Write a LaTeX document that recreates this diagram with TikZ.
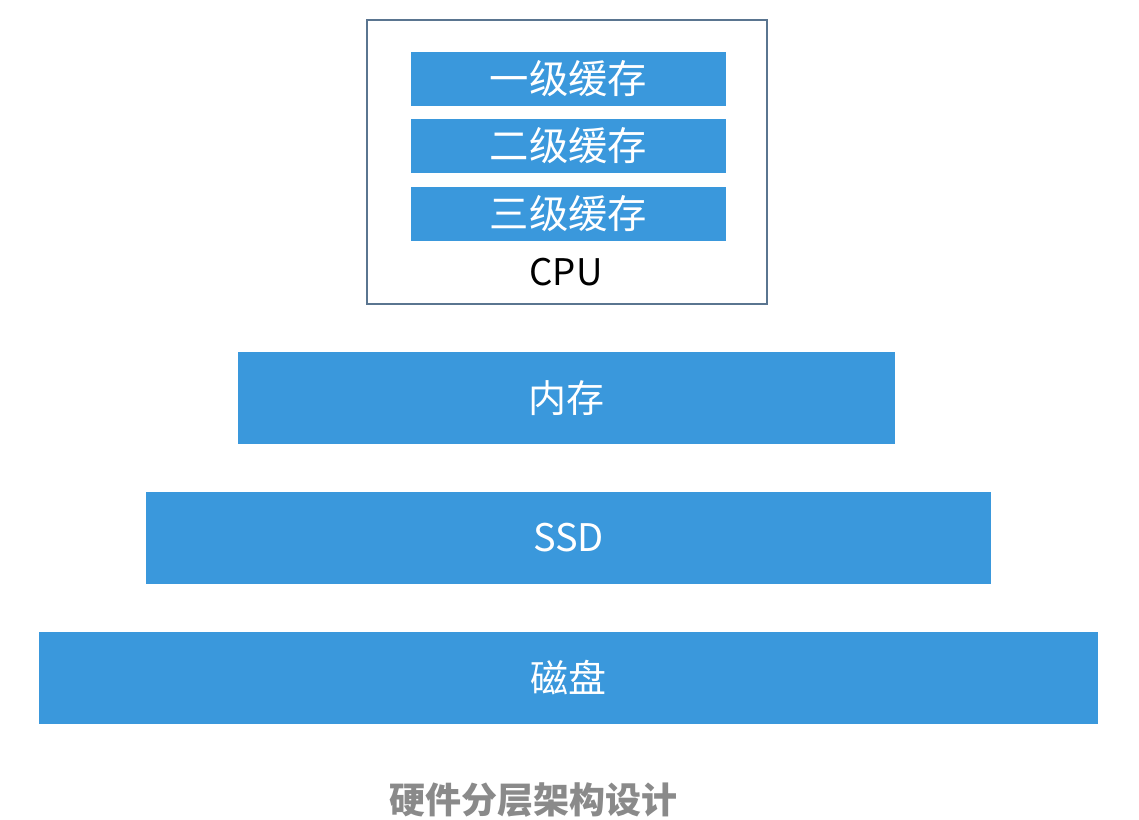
\documentclass[tikz,border=0pt]{standalone}
\usepackage{fontspec}
\setmainfont{Noto Sans CJK SC}
\newfontfamily\cjk{Noto Sans CJK SC}
\definecolor{barblue}{HTML}{3A98DC}
\definecolor{cpuborder}{HTML}{5A7590}
\definecolor{captiongray}{HTML}{8A8A8A}
\begin{document}
\begin{tikzpicture}[x=0.75pt,y=-0.75pt,
  bar/.style={fill=barblue,draw=none,text=white,inner sep=0pt,font=\cjk\fontsize{28.5}{32}\selectfont},
  cache/.style={bar,minimum width=315*0.75pt,minimum height=54*0.75pt,font=\cjk\fontsize{29.5}{32}\selectfont},
  ]
\useasboundingbox (0,0) rectangle (1139,819);
\node[draw=cpuborder,line width=1.5pt,minimum width=400*0.75pt,minimum height=284*0.75pt,inner sep=0pt] (cpu) at (567,162) {};
\node[cache] (l1) at (568.5,79) {一级缓存};
\node[cache] (l2) at (568.5,146) {二级缓存};
\node[cache] (l3) at (568.5,214) {三级缓存};
\node[font=\cjk\fontsize{27.5}{30}\selectfont,text=black] (cpulabel) at (566,272) {CPU};
\node[bar,minimum width=657*0.75pt,minimum height=92*0.75pt] (mem) at (566.5,398) {内存};
\node[bar,minimum width=845*0.75pt,minimum height=92*0.75pt] (ssd) at (568.5,538) {SSD};
\node[bar,minimum width=1059*0.75pt,minimum height=92*0.75pt] (disk) at (568.5,678) {磁盘};
\node[font=\cjk\bfseries\fontsize{27}{30}\selectfont,text=captiongray] (caption) at (533,800) {硬件分层架构设计};
\end{tikzpicture}
\end{document}
